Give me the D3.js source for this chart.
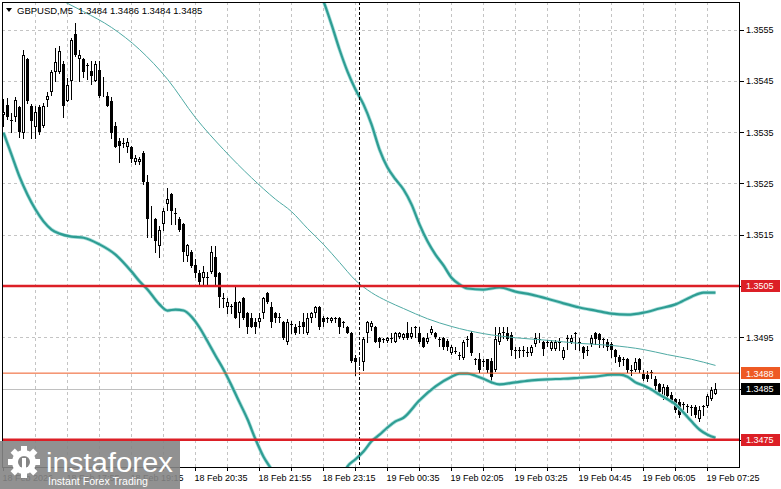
<!DOCTYPE html>
<html>
<head>
<meta charset="utf-8">
<script src="https://cdn.jsdelivr.net/npm/d3@7"></script>
<style>
body{margin:0;background:#fff}
svg{display:block}
text{font-family:"Liberation Sans",Arial,sans-serif}
</style>
</head>
<body>
<div id="chart"></div>
<script>
// GBPUSD M5 candles, 179 bars
const open = [
1.35384,1.35402,1.35373,1.35380,1.35398,1.35349,1.35492,1.35400,1.35359,1.35398,
1.35361,1.35412,1.35429,1.35468,1.35468,1.35482,1.35410,1.35449,1.35542,1.35492,
1.35492,1.35480,1.35470,1.35449,1.35472,1.35429,1.35421,1.35410,1.35361,1.35332,
1.35328,1.35320,1.35320,1.35291,1.35291,1.35310,1.35252,1.35193,1.35180,1.35127,
1.35170,1.35209,1.35230,1.35193,1.35180,1.35170,1.35109,1.35117,1.35090,1.35076,
1.35066,1.35068,1.35078,1.35107,1.35076,1.35027,1.35008,1.35010,1.35018,1.34998,
1.35027,1.34998,1.34988,1.34979,1.34979,1.34998,1.35037,1.35008,1.34998,1.34990,
1.34979,1.34940,1.34975,1.34969,1.34971,1.34979,1.34959,1.34988,1.34998,1.35008,
1.34988,1.34988,1.34981,1.34988,1.34988,1.34979,1.34969,1.34959,1.34910,1.34903,
1.34901,1.34959,1.34969,1.34969,1.34949,1.34946,1.34942,1.34949,1.34940,1.34951,
1.34949,1.34959,1.34951,1.34969,1.34959,1.34949,1.34940,1.34959,1.34959,1.34947,
1.34949,1.34942,1.34920,1.34924,1.34916,1.34910,1.34946,1.34959,1.34907,1.34907,
1.34903,1.34907,1.34903,1.34887,1.34940,1.34961,1.34959,1.34955,1.34926,1.34926,
1.34926,1.34922,1.34920,1.34936,1.34946,1.34940,1.34940,1.34928,1.34928,1.34940,
1.34910,1.34949,1.34940,1.34959,1.34940,1.34930,1.34926,1.34936,1.34959,1.34957,
1.34946,1.34940,1.34936,1.34926,1.34912,1.34907,1.34907,1.34887,1.34887,1.34907,
1.34879,1.34877,1.34883,1.34868,1.34858,1.34832,1.34852,1.34838,1.34829,1.34823,
1.34819,1.34815,1.34813,1.34813,1.34790,1.34815,1.34815,1.34829,1.34840
];
const high = [
1.35414,1.35417,1.35388,1.35419,1.35400,1.35511,1.35495,1.35404,1.35400,1.35402,
1.35406,1.35429,1.35472,1.35513,1.35517,1.35488,1.35456,1.35534,1.35562,1.35511,
1.35495,1.35484,1.35488,1.35488,1.35488,1.35458,1.35429,1.35419,1.35369,1.35339,
1.35339,1.35339,1.35322,1.35306,1.35302,1.35314,1.35267,1.35205,1.35183,1.35166,
1.35201,1.35240,1.35232,1.35201,1.35185,1.35172,1.35131,1.35121,1.35102,1.35082,
1.35088,1.35078,1.35127,1.35127,1.35078,1.35037,1.35027,1.35014,1.35049,1.35020,
1.35029,1.35000,1.34998,1.34988,1.34998,1.35029,1.35039,1.35018,1.35000,1.34998,
1.34981,1.34985,1.34981,1.34975,1.34981,1.34998,1.34998,1.35000,1.35010,1.35010,
1.34992,1.34990,1.34990,1.34990,1.34990,1.34981,1.34971,1.34961,1.34916,1.34910,
1.34951,1.34981,1.34981,1.34971,1.34951,1.34949,1.34951,1.34959,1.34961,1.34961,
1.34959,1.34979,1.34969,1.34971,1.34969,1.34951,1.34959,1.34971,1.34961,1.34951,
1.34951,1.34946,1.34934,1.34930,1.34922,1.34944,1.34953,1.34963,1.34910,1.34920,
1.34907,1.34908,1.34910,1.34969,1.34969,1.34969,1.34969,1.34961,1.34930,1.34930,
1.34932,1.34930,1.34934,1.34959,1.34959,1.34942,1.34944,1.34944,1.34944,1.34949,
1.34930,1.34955,1.34955,1.34961,1.34949,1.34932,1.34932,1.34955,1.34961,1.34959,
1.34949,1.34946,1.34940,1.34928,1.34916,1.34912,1.34910,1.34895,1.34910,1.34910,
1.34887,1.34885,1.34887,1.34875,1.34860,1.34858,1.34856,1.34844,1.34832,1.34829,
1.34823,1.34819,1.34817,1.34817,1.34815,1.34817,1.34840,1.34852,1.34860
];
const low = [
1.35361,1.35375,1.35351,1.35371,1.35341,1.35339,1.35406,1.35339,1.35339,1.35347,
1.35359,1.35400,1.35423,1.35449,1.35466,1.35380,1.35410,1.35414,1.35499,1.35449,
1.35458,1.35453,1.35443,1.35449,1.35419,1.35421,1.35400,1.35339,1.35320,1.35291,
1.35320,1.35312,1.35291,1.35287,1.35287,1.35248,1.35146,1.35146,1.35117,1.35107,
1.35160,1.35199,1.35170,1.35170,1.35158,1.35098,1.35098,1.35086,1.35068,1.35049,
1.35049,1.35049,1.35076,1.35049,1.35008,1.35008,1.34998,1.34998,1.34988,1.34969,
1.34986,1.34959,1.34969,1.34959,1.34969,1.34988,1.35016,1.34969,1.34979,1.34979,
1.34947,1.34936,1.34959,1.34957,1.34959,1.34959,1.34957,1.34979,1.34990,1.34967,
1.34971,1.34979,1.34979,1.34979,1.34959,1.34969,1.34959,1.34901,1.34877,1.34895,
1.34887,1.34940,1.34965,1.34940,1.34930,1.34940,1.34940,1.34940,1.34940,1.34949,
1.34947,1.34947,1.34949,1.34951,1.34938,1.34930,1.34938,1.34957,1.34949,1.34932,
1.34928,1.34926,1.34918,1.34920,1.34907,1.34907,1.34932,1.34916,1.34897,1.34883,
1.34893,1.34883,1.34866,1.34885,1.34936,1.34949,1.34944,1.34916,1.34910,1.34912,
1.34914,1.34914,1.34916,1.34932,1.34940,1.34916,1.34932,1.34926,1.34926,1.34926,
1.34908,1.34928,1.34938,1.34928,1.34926,1.34910,1.34916,1.34932,1.34936,1.34930,
1.34930,1.34926,1.34912,1.34901,1.34893,1.34895,1.34883,1.34877,1.34885,1.34883,
1.34866,1.34864,1.34871,1.34848,1.34838,1.34829,1.34829,1.34821,1.34805,1.34795,
1.34805,1.34805,1.34799,1.34795,1.34786,1.34799,1.34813,1.34827,1.34840
];
const close = [
1.35390,1.35380,1.35371,1.35412,1.35351,1.35501,1.35410,1.35371,1.35390,1.35351,
1.35400,1.35421,1.35468,1.35486,1.35509,1.35400,1.35441,1.35530,1.35501,1.35501,
1.35468,1.35480,1.35460,1.35482,1.35421,1.35430,1.35400,1.35349,1.35320,1.35322,
1.35328,1.35330,1.35297,1.35300,1.35298,1.35252,1.35180,1.35195,1.35137,1.35160,
1.35197,1.35220,1.35197,1.35191,1.35160,1.35117,1.35129,1.35088,1.35076,1.35057,
1.35078,1.35068,1.35117,1.35068,1.35029,1.35027,1.35018,1.35010,1.34988,1.35018,
1.34988,1.34969,1.34969,1.34969,1.34988,1.35027,1.35018,1.34979,1.34988,1.34990,
1.34949,1.34979,1.34975,1.34959,1.34971,1.34969,1.34988,1.34998,1.35008,1.34969,
1.34979,1.34988,1.34988,1.34988,1.34969,1.34977,1.34959,1.34903,1.34901,1.34905,
1.34946,1.34979,1.34977,1.34940,1.34940,1.34946,1.34949,1.34949,1.34959,1.34959,
1.34957,1.34949,1.34959,1.34969,1.34940,1.34930,1.34949,1.34967,1.34951,1.34947,
1.34930,1.34930,1.34930,1.34924,1.34916,1.34940,1.34946,1.34920,1.34907,1.34887,
1.34903,1.34887,1.34873,1.34946,1.34959,1.34961,1.34946,1.34926,1.34926,1.34926,
1.34926,1.34922,1.34930,1.34949,1.34946,1.34928,1.34940,1.34940,1.34940,1.34938,
1.34926,1.34949,1.34949,1.34959,1.34940,1.34920,1.34926,1.34949,1.34946,1.34944,
1.34944,1.34930,1.34926,1.34912,1.34901,1.34907,1.34887,1.34887,1.34901,1.34887,
1.34868,1.34868,1.34883,1.34854,1.34844,1.34852,1.34836,1.34825,1.34809,1.34799,
1.34819,1.34815,1.34813,1.34799,1.34809,1.34815,1.34836,1.34848,1.34850
];

// Bollinger bands, sampled at bar indices
const upperIdx = [72,76,80,82,84,86,88,90,92,94,96,98,100,102,104,106,108,110,112,114,116,120,124,128,132,136,140,144,148,152,156,160,164,168,172,175,178];
const upperBand = [1.35745,1.35667,1.35605,1.35560,1.35511,1.35468,1.35433,1.35404,1.35365,1.35316,1.35281,1.35258,1.35238,1.35209,1.35170,1.35137,1.35111,1.35090,1.35066,1.35053,1.35045,1.35043,1.35047,1.35039,1.35033,1.35025,1.35016,1.35008,1.35002,1.34996,1.34994,1.34998,1.35006,1.35014,1.35029,1.35037,1.35037];
const middleIdx = [12,20,27,34,41,48,55,62,68,72,76,80,84,88,92,96,100,106,112,120,128,136,144,152,160,166,172,178];
const middleBand = [1.35616,1.35585,1.35554,1.35511,1.35453,1.35378,1.35316,1.35261,1.35219,1.35195,1.35162,1.35131,1.35096,1.35061,1.35037,1.35020,1.35006,1.34986,1.34971,1.34957,1.34949,1.34944,1.34938,1.34934,1.34926,1.34916,1.34907,1.34895];
const lowerIdx = [0,2,4,6,8,10,12,14,17,20,24,28,32,34,36,39,41,43,45,47,49,51,53,55,57,59,61,63,65,67,70,76,82,86,88,90,92,94,96,98,100,104,108,112,114,116,118,120,122,124,128,132,136,140,144,148,152,154,156,158,160,162,164,166,168,170,172,174,176,178];
const lowerBand = [
1.35349,1.35306,1.35263,1.35228,1.35199,1.35176,1.35160,1.35152,1.35146,1.35144,
1.35131,1.35111,1.35078,1.35059,1.35043,1.35014,1.35002,1.35004,1.35002,1.34990,
1.34969,1.34942,1.34914,1.34887,1.34856,1.34823,1.34790,1.34751,1.34717,1.34692,
1.34643,1.34585,1.34614,1.34698,1.34712,1.34727,1.34747,1.34760,1.34774,1.34786,
1.34793,1.34827,1.34854,1.34873,1.34879,1.34879,1.34875,1.34869,1.34862,1.34858,
1.34862,1.34866,1.34868,1.34869,1.34871,1.34873,1.34877,1.34877,1.34873,1.34862,
1.34856,1.34848,1.34838,1.34829,1.34819,1.34803,1.34786,1.34770,1.34760,1.34754];

const priceTicks = [1.3555,1.3545,1.3535,1.3525,1.3515,1.3505,1.3495,1.3485,1.3475];
const timeIdx = [0,16,32,48,64,80,96,112,128,144,160,176];
const timeLabels = ["18 Feb 2026","18 Feb 17:55","18 Feb 19:15","18 Feb 20:35","18 Feb 21:55","18 Feb 23:15",
  "19 Feb 00:35","19 Feb 02:05","19 Feb 03:25","19 Feb 04:45","19 Feb 06:05","19 Feb 07:25"];
const levelPrices = [1.3505, 1.3488, 1.3475];
const levelColors = ["#dc1f26", "#ee5a24", "#dc1f26"];
const bidPrice = 1.3485;
const daySeparator = 89;
const title = "GBPUSD,M5  1.3484 1.3486 1.3484 1.3485";

const W = 781, H = 489;
const L = 2, R = 740, T = 2, B = 467;

const svg = d3.select("#chart").append("svg")
    .attr("width", W)
    .attr("height", H);
svg.append("rect").attr("width", W).attr("height", H).attr("fill", "#fff");

const x = d3.scaleLinear().domain([0, 178]).range([3.5, 715.5]);
const y = d3.scaleLinear().domain([1.3475, 1.3555]).range([439.8, 29.5]);
const py = v => Math.round(y(v)) + 0.5;

svg.append("clipPath").attr("id", "plot")
  .append("rect").attr("x", L).attr("y", T).attr("width", R - L).attr("height", B - T);

// grid
const grid = svg.append("g").attr("stroke", "#c4c4c4").attr("stroke-dasharray", "3,3");
grid.selectAll("line.h").data(priceTicks).enter().append("line")
    .attr("x1", L).attr("x2", R)
    .attr("y1", d => py(d)).attr("y2", d => py(d));
grid.selectAll("line.v").data(d3.range(8, 179, 8)).enter().append("line")
    .attr("x1", d => x(d)).attr("x2", d => x(d))
    .attr("y1", T).attr("y2", B);

const plot = svg.append("g").attr("clip-path", "url(#plot)");

// bid line
plot.append("line").attr("x1", L).attr("x2", R)
    .attr("y1", py(bidPrice)).attr("y2", py(bidPrice))
    .attr("stroke", "#c0c0c0");

// candles
const bars = d3.range(open.length);
const cg = plot.append("g").attr("shape-rendering", "crispEdges");
cg.selectAll("line").data(bars).enter().append("line")
    .attr("x1", i => x(i)).attr("x2", i => x(i))
    .attr("y1", i => Math.round(y(high[i]))).attr("y2", i => Math.round(y(low[i])) + 1)
    .attr("stroke", "#000");
cg.selectAll("rect").data(bars).enter().append("rect")
    .each(function(i) {
      const yo = Math.round(y(open[i])), yc = Math.round(y(close[i]));
      const top = Math.min(yo, yc), h = Math.abs(yo - yc);
      const el = d3.select(this);
      if (close[i] > open[i]) {
        el.attr("x", x(i) - 1).attr("y", top + 0.5).attr("width", 2).attr("height", Math.max(h - 1, 0))
          .attr("fill", "#fff").attr("stroke", "#000");
      } else {
        el.attr("x", x(i) - 1.5).attr("y", top).attr("width", 3).attr("height", Math.max(h, 1))
          .attr("fill", "#000");
      }
    });

// bands
const line = d3.line().curve(d3.curveMonotoneX);
function band(idx, vals, w, col, halo) {
  const pts = idx.map((d, k) => [x(d), y(vals[k])]);
  if (halo) plot.append("path").attr("d", line(pts)).attr("fill", "none")
      .attr("stroke", halo).attr("stroke-width", w + 1.5);
  plot.append("path").attr("d", line(pts)).attr("fill", "none")
      .attr("stroke", col).attr("stroke-width", w);
}
band(middleIdx, middleBand, 1, "#4faaa4");
band(upperIdx, upperBand, 2.2, "#2e9d93", "#a9dedb");
band(lowerIdx, lowerBand, 2.2, "#2e9d93", "#a9dedb");

// day separator
plot.append("line").attr("x1", x(daySeparator)).attr("x2", x(daySeparator))
    .attr("y1", T).attr("y2", B)
    .attr("stroke", "#000").attr("stroke-dasharray", "3,2");

// level lines
levelPrices.forEach((p, k) => {
  plot.append("line").attr("x1", L).attr("x2", R)
      .attr("y1", y(p)).attr("y2", y(p))
      .attr("stroke", levelColors[k]).attr("stroke-width", k === 1 ? 1 : 2.4);
});

// frame
svg.append("rect").attr("x", L + 0.5).attr("y", T + 0.5)
    .attr("width", R - L - 1).attr("height", B - T)
    .attr("fill", "none").attr("stroke", "#000");

// right axis
const ra = svg.append("g");
ra.selectAll("line").data(priceTicks).enter().append("line")
    .attr("x1", R).attr("x2", R + 4).attr("y1", d => py(d)).attr("y2", d => py(d))
    .attr("stroke", "#000");
ra.selectAll("text").data(priceTicks).enter().append("text")
    .attr("x", 746).attr("y", d => y(d) + 3.5)
    .attr("font-size", 9).attr("fill", "#000")
    .text(d => d.toFixed(4));

// price boxes
const boxes = [[levelPrices[0], levelColors[0]], [levelPrices[1], levelColors[1]], [bidPrice, "#000"], [levelPrices[2], levelColors[2]]];
boxes.forEach(([p, c]) => {
  svg.append("rect").attr("x", 741).attr("y", Math.round(y(p)) - 6)
      .attr("width", 39).attr("height", 12).attr("fill", c);
  svg.append("text").attr("x", 746).attr("y", y(p) + 3.5)
      .attr("font-size", 9).attr("fill", "#fff").text(p.toFixed(4));
});

// bottom axis
const ba = svg.append("g");
ba.selectAll("line").data(d3.range(0, 179, 8)).enter().append("line")
    .attr("x1", d => x(d)).attr("x2", d => x(d)).attr("y1", B).attr("y2", B + 4)
    .attr("stroke", "#000");
ba.selectAll("text").data(timeIdx).enter().append("text")
    .attr("x", d => x(d) - 1).attr("y", 481)
    .attr("font-size", 9).attr("fill", "#000")
    .text((d, k) => timeLabels[k]);

// title
svg.append("path").attr("d", "M6,8 L12,8 L9,12 Z").attr("fill", "#000");
svg.append("text").attr("x", 17).attr("y", 14)
    .attr("font-size", 9.5).attr("fill", "#000")
    .style("white-space", "pre").text(title);

// watermark logo
const logo = svg.append("g");
logo.append("rect").attr("x", 0).attr("y", 441).attr("width", 180).attr("height", 48)
    .attr("fill", "#858585").attr("opacity", 0.9);
const gear = logo.append("g").attr("transform", "translate(24,462)").attr("fill", "#fff");
d3.range(8).forEach(k => {
  gear.append("rect").attr("x", -3).attr("y", -16).attr("width", 6).attr("height", 7)
      .attr("transform", `rotate(${k * 45})`);
});
gear.append("circle").attr("r", 12);
gear.append("circle").attr("r", 6).attr("fill", "#858585");
gear.append("rect").attr("x", -2).attr("y", -4).attr("width", 4).attr("height", 14);
gear.append("circle").attr("cy", -8).attr("r", 2.2);
logo.append("text").attr("x", 46).attr("y", 472)
    .attr("font-family", "'Open Sans', sans-serif").attr("font-weight", 300)
    .attr("font-size", 27).attr("fill", "#fff")
    .attr("textLength", 127).attr("lengthAdjust", "spacingAndGlyphs")
    .text("instaforex");
logo.append("text").attr("x", 48).attr("y", 485)
    .attr("font-family", "'Open Sans', sans-serif")
    .attr("font-size", 11).attr("fill", "#fff")
    .attr("textLength", 100).attr("lengthAdjust", "spacingAndGlyphs")
    .text("Instant Forex Trading");
</script>
</body>
</html>
